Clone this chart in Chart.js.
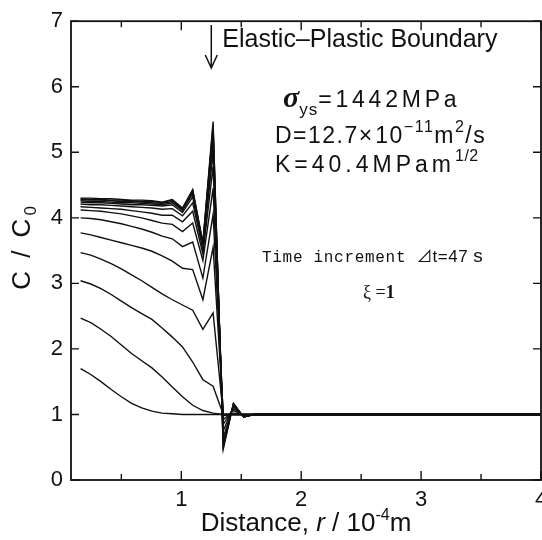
<!DOCTYPE html>
<html>
<head>
<meta charset="utf-8">
<script src="https://cdn.jsdelivr.net/npm/chart.js@4"></script>
<style>
html, body { margin: 0; padding: 0; background: #fff; overflow: hidden; }
</style>
</head>
<body>
<canvas id="chart" width="570" height="540"></canvas>
<script>
// distance nodes, r / 10^-4 m
const rNodes = [0.16, 0.245, 0.33, 0.415, 0.50, 0.585, 0.67, 0.755, 0.84, 0.925, 1.01, 1.095, 1.18, 1.265, 1.35, 1.435, 1.52, 1.605, 4.0];

// C / C0 after each time increment (47 s), earliest first
const c01 = [1.70, 1.61, 1.50, 1.38, 1.27, 1.17, 1.10, 1.05, 1.02, 1.01, 1.00, 1.00, 1.00, 1.00, 1.00, 1.00, 1.00, 1.00, 1.00];
const c02 = [2.47, 2.40, 2.30, 2.19, 2.06, 1.93, 1.82, 1.71, 1.57, 1.42, 1.27, 1.14, 1.06, 1.02, 1.00, 1.00, 1.00, 1.00, 1.00];
const c03 = [3.04, 2.99, 2.92, 2.83, 2.73, 2.63, 2.54, 2.45, 2.32, 2.18, 2.03, 1.80, 1.53, 1.43, 1.00, 1.00, 1.00, 1.00, 1.00];
const c04 = [3.47, 3.43, 3.37, 3.30, 3.22, 3.13, 3.04, 2.94, 2.84, 2.75, 2.67, 2.59, 2.30, 2.55, 1.00, 1.00, 1.00, 1.00, 1.00];
const c05 = [3.77, 3.74, 3.70, 3.66, 3.62, 3.58, 3.54, 3.49, 3.42, 3.34, 3.23, 3.21, 2.75, 3.55, 1.00, 1.00, 1.00, 1.00, 1.00];
const c06 = [4.00, 3.99, 3.97, 3.94, 3.91, 3.87, 3.83, 3.78, 3.72, 3.68, 3.56, 3.63, 3.08, 4.05, 0.98, 1.02, 1.00, 1.00, 1.00];
const c07 = [4.12, 4.11, 4.10, 4.08, 4.06, 4.03, 4.00, 3.96, 3.92, 3.90, 3.79, 3.92, 3.35, 4.45, 0.92, 1.06, 0.99, 1.00, 1.00];
const c08 = [4.17, 4.16, 4.15, 4.14, 4.13, 4.11, 4.09, 4.07, 4.04, 4.04, 3.94, 4.10, 3.45, 4.78, 0.85, 1.09, 0.98, 1.00, 1.00];
const c09 = [4.21, 4.20, 4.20, 4.19, 4.18, 4.17, 4.16, 4.15, 4.13, 4.14, 4.03, 4.23, 3.52, 5.00, 0.75, 1.12, 0.97, 1.00, 1.00];
const c10 = [4.24, 4.23, 4.23, 4.22, 4.21, 4.20, 4.20, 4.19, 4.18, 4.20, 4.08, 4.32, 3.56, 5.15, 0.65, 1.14, 0.96, 1.00, 1.00];
const c11 = [4.26, 4.25, 4.25, 4.24, 4.23, 4.23, 4.22, 4.21, 4.20, 4.23, 4.11, 4.37, 3.58, 5.27, 0.58, 1.15, 0.96, 1.00, 1.00];
const c12 = [4.28, 4.27, 4.27, 4.26, 4.25, 4.25, 4.24, 4.23, 4.22, 4.25, 4.13, 4.40, 3.60, 5.36, 0.53, 1.16, 0.96, 1.00, 1.00];
const c13 = [4.29, 4.28, 4.28, 4.27, 4.27, 4.26, 4.25, 4.25, 4.23, 4.27, 4.14, 4.42, 3.61, 5.42, 0.50, 1.17, 0.96, 1.00, 1.00];
const c14 = [4.30, 4.30, 4.29, 4.29, 4.28, 4.27, 4.27, 4.26, 4.24, 4.28, 4.15, 4.43, 3.62, 5.47, 0.47, 1.17, 0.96, 1.00, 1.00];
const curves = [c01, c02, c03, c04, c05, c06, c07, c08, c09, c10, c11, c12, c13, c14];

const xTicks = [1, 2, 3, 4];
const xMinor = [0.5, 1.5, 2.5, 3.5];
const yTicks = [0, 1, 2, 3, 4, 5, 6, 7];
const boundaryR = 1.25;

const INK = '#111111';
const SANS = "'Liberation Sans', Arial, sans-serif";

// draw a row of text pieces (sub/superscripts), returns end x
function runs(ctx, x, y, parts, dry) {
    parts.forEach(p => {
        ctx.font = p.f;
        ctx.letterSpacing = (p.ls || 0) + 'px';
        if (!dry) ctx.fillText(p.t, x, y + (p.dy || 0));
        x += ctx.measureText(p.t).width;
    });
    ctx.letterSpacing = '0px';
    return x;
}

// box frame with inward ticks
const frame = {
    id: 'frame',
    afterDatasetsDraw(chart) {
        const { ctx, chartArea: a, scales: { x, y } } = chart;
        ctx.save();
        ctx.strokeStyle = INK;
        ctx.lineWidth = 1.8;
        ctx.strokeRect(a.left, a.top, a.right - a.left, a.bottom - a.top);
        ctx.lineWidth = 1.4;
        ctx.beginPath();
        xTicks.forEach(v => {
            const px = x.getPixelForValue(v);
            ctx.moveTo(px, a.bottom); ctx.lineTo(px, a.bottom - 9);
            ctx.moveTo(px, a.top); ctx.lineTo(px, a.top + 9);
        });
        xMinor.forEach(v => {
            const px = x.getPixelForValue(v);
            ctx.moveTo(px, a.bottom); ctx.lineTo(px, a.bottom - 6);
            ctx.moveTo(px, a.top); ctx.lineTo(px, a.top + 6);
        });
        yTicks.forEach(v => {
            const py = y.getPixelForValue(v);
            ctx.moveTo(a.left, py); ctx.lineTo(a.left + 8, py);
            ctx.moveTo(a.right, py); ctx.lineTo(a.right - 8, py);
        });
        ctx.stroke();
        ctx.restore();
    }
};

// axis titles and annotations
const notes = {
    id: 'notes',
    afterDraw(chart) {
        const { ctx, chartArea: a, scales: { x } } = chart;
        ctx.save();
        ctx.fillStyle = INK;
        ctx.strokeStyle = INK;
        ctx.textBaseline = 'alphabetic';

        // x title
        const xt = [
            { t: 'Distance, ', f: '26px ' + SANS },
            { t: 'r', f: 'italic 26px ' + SANS },
            { t: ' / 10', f: '26px ' + SANS },
            { t: '-4', f: '16px ' + SANS, dy: -11 },
            { t: 'm', f: '26px ' + SANS }
        ];
        const cx = (a.left + a.right) / 2;
        const wx = runs(ctx, 0, 0, xt, true);
        runs(ctx, cx - wx / 2, 531, xt);

        // y title
        const yt = [
            { t: 'C / C', f: '26px ' + SANS, ls: 3 },
            { t: '0', f: '17px ' + SANS, dy: 6 }
        ];
        const wy = runs(ctx, 0, 0, yt, true);
        ctx.save();
        ctx.translate(30, 248);
        ctx.rotate(-Math.PI / 2);
        runs(ctx, -wy / 2, 0, yt);
        ctx.restore();

        // boundary arrow
        const bx = x.getPixelForValue(boundaryR);
        ctx.lineWidth = 1.5;
        ctx.beginPath();
        ctx.moveTo(bx, 25); ctx.lineTo(bx, 68);
        ctx.moveTo(bx - 6, 55); ctx.lineTo(bx, 68); ctx.lineTo(bx + 6, 55);
        ctx.stroke();
        runs(ctx, bx + 11, 47, [{ t: 'Elastic\u2013Plastic Boundary', f: '25px ' + SANS }]);

        // material parameters
        runs(ctx, 283, 107, [
            { t: '\u03C3', f: "bold italic 30px 'Liberation Serif', serif" },
            { t: 'ys', f: '17px ' + SANS, dy: 8, ls: 1 },
            { t: '=1442MPa', f: '23px ' + SANS, ls: 3.8 }
        ]);
        runs(ctx, 275, 143, [
            { t: 'D=12.7', f: '23px ' + SANS, ls: 1.5 },
            { t: '\u00D7', f: '23px ' + SANS, ls: 3 },
            { t: '10', f: '23px ' + SANS, ls: 1.5 },
            { t: '\u221211', f: '16px ' + SANS, dy: -11, ls: 1.5 },
            { t: 'm', f: '23px ' + SANS, ls: 1.5 },
            { t: '2', f: '16px ' + SANS, dy: -11, ls: 1.5 },
            { t: '/s', f: '23px ' + SANS, ls: 1.5 }
        ]);
        runs(ctx, 275, 172, [
            { t: 'K=40.4MPam', f: '23px ' + SANS, ls: 4 },
            { t: '1/2', f: '16px ' + SANS, dy: -11, ls: 0.5 }
        ]);

        runs(ctx, 262, 262, [
            { t: 'Time increment ', f: "16px 'Liberation Mono', monospace", ls: 0.7 },
            { t: '\u22BF', f: "16px 'Noto Sans CJK JP', 'DejaVu Sans'" },
            { t: 't=47 ', f: '17px ' + SANS, ls: 0.5 },
            { t: 's', f: '19px ' + SANS }
        ]);
        runs(ctx, 363, 298, [
            { t: '\u03BE =', f: "18px 'Liberation Serif', serif" },
            { t: '1', f: "bold 18px 'Liberation Serif', serif" }
        ]);
        ctx.restore();
    }
};

const datasets = curves.map(c => ({
    data: rNodes.map((r, i) => ({ x: r, y: c[i] })),
    borderColor: INK,
    borderWidth: 1.4,
    pointRadius: 0,
    fill: false,
    tension: 0
}));

new Chart(document.getElementById('chart'), {
    type: 'line',
    data: { datasets },
    options: {
        responsive: false,
        animation: false,
        layout: { padding: { top: 13, right: 29, left: 0, bottom: 0 } },
        plugins: { legend: { display: false }, tooltip: { enabled: false } },
        scales: {
            x: {
                type: 'linear',
                min: 0.08,
                max: 4.0,
                grid: { display: false, drawTicks: false },
                border: { display: false },
                afterBuildTicks: s => { s.ticks = xTicks.map(v => ({ value: v })); },
                afterFit: s => { s.height = 60; },
                ticks: { color: INK, padding: 7, maxRotation: 0, autoSkip: false, font: { family: SANS, size: 22 } }
            },
            y: {
                min: 0,
                max: 7,
                grid: { display: false, drawTicks: false },
                border: { display: false },
                afterFit: s => { s.width = 71; },
                ticks: { stepSize: 1, color: INK, padding: 8, font: { family: SANS, size: 22 } }
            }
        }
    },
    plugins: [frame, notes]
});
</script>
</body>
</html>
